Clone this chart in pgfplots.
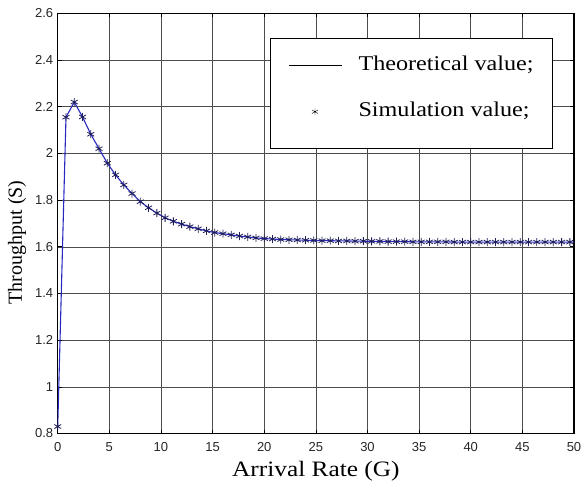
\documentclass[border=0pt]{standalone}
\usepackage{pgfplots}
\usepackage{graphicx}
\pgfplotsset{compat=1.18}
\usepackage{fontspec}
\setmainfont{Liberation Serif}
\newfontfamily\arial{Liberation Sans}
\definecolor{theo}{RGB}{40,40,190}
\definecolor{simc}{RGB}{30,30,90}
\newcommand{\wide}[1]{\scalebox{1.15}[1]{#1}}
\pgfplotsset{
  lineleg/.style={legend image code/.code={\draw[##1, line width=1pt] (0pt,0pt) -- (53pt,0pt);}},
  starleg/.style={legend image code/.code={\draw[##1] plot coordinates {(26pt,0pt)};}},
}
\begin{document}
\begin{tikzpicture}
\begin{axis}[
  name=ax,
  scale only axis,
  width=516pt, height=420pt,
  xmin=0, xmax=50, ymin=0.8, ymax=2.6,
  xtick={0,5,...,50},
  ytick={0.8,1,1.2,1.4,1.6,1.8,2,2.2,2.4,2.6},
  yticklabels={0.8,1,1.2,1.4,1.6,1.8,2,2.2,2.4,2.6},
  grid=major,
  major grid style={black!70, line width=0.5pt},
  axis line style={black, line width=1.2pt},
  tick align=inside,
  major tick length=4pt,
  tick style={black, line width=0.6pt},
  ticklabel style={font=\arial\fontsize{13}{15}\selectfont, text=black!85},
  /pgf/number format/assume math mode=true,
  xticklabel style={yshift=-5pt},
  yticklabel style={xshift=-1pt},
  xlabel={\wide{Arrival Rate (G)}},
  ylabel={Throughput (S)},
  xlabel style={font=\fontsize{22}{24}\selectfont, yshift=-3pt},
  ylabel style={font=\fontsize{20}{22}\selectfont, yshift=2pt, xshift=-19pt},
  legend cell align=left,
  legend style={at={(rel axis cs:0.957,0.94)}, anchor=north east,
    draw=none, fill=none,
    font=\fontsize{21}{24}\selectfont,
    inner xsep=16pt, inner ysep=15pt, row sep=22pt,
    nodes={text height=15pt, text depth=5pt},
    /tikz/every odd column/.append style={column sep=14pt}},
]
\addlegendimage{black, line width=1pt, lineleg}
\addlegendentry{\wide{Theoretical value;}}
\addlegendimage{only marks, mark=asterisk, mark size=3.5pt, black, starleg}
\addlegendentry{\wide{Simulation value;}}
\addplot[theo, line width=1.1pt, forget plot] table {
x y
0 0.83
0.8 2.155
1.6 2.220
2.4 2.156
3.2 2.082
4.0 2.020
4.8 1.958
5.6 1.908
6.4 1.865
7.2 1.828
8.0 1.793
8.8 1.767
9.6 1.744
10.4 1.724
11.2 1.709
12.0 1.697
12.8 1.686
13.6 1.677
14.4 1.668
15.2 1.661
16.0 1.656
16.8 1.651
17.6 1.646
18.4 1.642
19.2 1.638
20.0 1.635
20.8 1.633
21.6 1.631
22.4 1.630
23.2 1.629
24.0 1.628
24.8 1.627
25.6 1.626
26.4 1.626
27.2 1.625
28.0 1.625
28.8 1.624
29.6 1.624
30.4 1.623
31.2 1.623
32.0 1.622
32.8 1.622
33.6 1.622
34.4 1.621
35.2 1.621
36.0 1.621
36.8 1.621
37.6 1.621
38.4 1.620
39.2 1.620
40.0 1.620
40.8 1.620
41.6 1.620
42.4 1.620
43.2 1.620
44.0 1.620
44.8 1.620
45.6 1.620
46.4 1.620
47.2 1.620
48.0 1.620
48.8 1.620
49.6 1.620
50.0 1.620
};
\addplot[only marks, mark=asterisk, mark size=4pt, simc, line width=0.8pt, forget plot] table {
x y
0 0.83
0.8 2.155
1.6 2.220
2.4 2.156
3.2 2.082
4.0 2.020
4.8 1.958
5.6 1.908
6.4 1.865
7.2 1.828
8.0 1.793
8.8 1.767
9.6 1.744
10.4 1.724
11.2 1.709
12.0 1.697
12.8 1.686
13.6 1.677
14.4 1.668
15.2 1.661
16.0 1.656
16.8 1.651
17.6 1.646
18.4 1.642
19.2 1.638
20.0 1.635
20.8 1.633
21.6 1.631
22.4 1.630
23.2 1.629
24.0 1.628
24.8 1.627
25.6 1.626
26.4 1.626
27.2 1.625
28.0 1.625
28.8 1.624
29.6 1.624
30.4 1.623
31.2 1.623
32.0 1.622
32.8 1.622
33.6 1.622
34.4 1.621
35.2 1.621
36.0 1.621
36.8 1.621
37.6 1.621
38.4 1.620
39.2 1.620
40.0 1.620
40.8 1.620
41.6 1.620
42.4 1.620
43.2 1.620
44.0 1.620
44.8 1.620
45.6 1.620
46.4 1.620
47.2 1.620
48.0 1.620
48.8 1.620
49.6 1.620
};
\draw[black, line width=1pt, fill=white] (axis cs:20.6,2.494) rectangle (axis cs:47.9,2.023);
\end{axis}
\pgfresetboundingbox
\path ([shift={(-57.7pt,-51pt)}]ax.south west) rectangle ([shift={(8pt,13.3pt)}]ax.north east);
\end{tikzpicture}
\end{document}
